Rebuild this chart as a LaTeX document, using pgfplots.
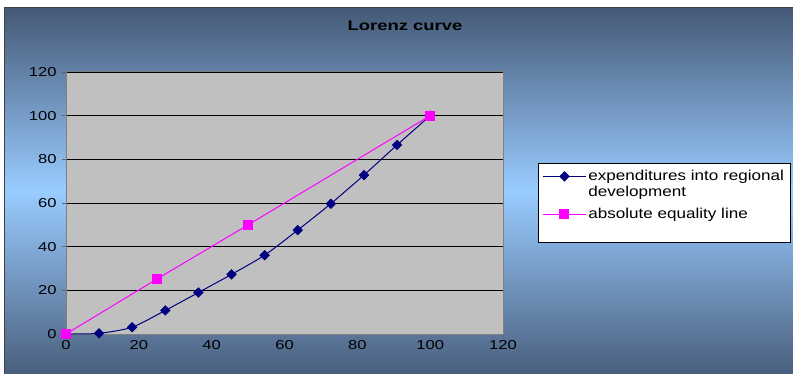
\documentclass[border=0pt]{standalone}
\usepackage{pgfplots}
\pgfplotsset{compat=1.18}
\usepackage{fontspec}
\setmainfont{Liberation Sans}[FakeStretch=1.28]
\newfontfamily\legfont{Liberation Sans}[FakeStretch=1.19]
\newfontfamily\titlefont{Liberation Sans}[FakeStretch=1.32]
\definecolor{bgtop}{HTML}{455977}
\definecolor{bglight}{HTML}{99CCFF}
\definecolor{bgbot}{HTML}{4A5F7E}
\definecolor{plotgray}{HTML}{C0C0C0}
\definecolor{navy}{HTML}{000080}
\definecolor{magenta}{HTML}{FF00FF}
\begin{document}
\begin{tikzpicture}[x=1bp,y=1bp]
\useasboundingbox (0,0) rectangle (793,373);
\clip (0,0) rectangle (793,373);
\fill[white] (0,0) rectangle (793,373);
\shade[top color=bgtop, bottom color=bgbot, middle color=bglight] (4,0) rectangle (793,365);
\draw[black!75, line width=1bp] (4,0) -- (4,365) -- (793,365);
\node[font=\titlefont\fontsize{14}{16}\selectfont\bfseries] at (405,347) {Lorenz curve};
\begin{axis}[
  at={(66bp,39bp)}, anchor=south west,
  scale only axis, width=437bp, height=262bp,
  xmin=0, xmax=120, ymin=0, ymax=120,
  xtick={0,20,...,120}, ytick={0,20,...,120},
  axis background/.style={fill=plotgray},
  axis line style={draw=black!50, line width=1bp},
  ymajorgrids, grid style={black, line width=0.8bp},
  xtick pos=bottom, ytick pos=left,
  tick align=outside, major tick length=4bp,
  tick style={black!60, line width=0.8bp},
  ticklabel style={font=\fontsize{13}{15}\selectfont},
  /pgf/number format/assume math mode=true,
  xticklabel style={yshift=1bp},
  yticklabel style={xshift=-2bp},
  legend style={at={(1.0801,0.6527)}, anchor=north west, draw=black, line width=0.8bp, fill=white,
    font=\legfont\fontsize{14.4}{16.7}\selectfont, cells={anchor=base west, inner ysep=0bp},
    inner xsep=4bp, inner ysep=4bp, row sep=0bp},
  legend image code/.code={\draw[mark repeat=2,mark phase=2,#1] plot coordinates {(0bp,4bp)(21.5bp,4bp)(43bp,4bp)};},
  clip=false,
]
\addplot[navy, line width=1bp, smooth, tension=0.4, mark=square*, mark options={rotate=45, solid, fill=navy}, mark size=3.2bp]
 coordinates {(0,0) (9.09,0.3) (18.18,3.1) (27.27,10.8) (36.36,19) (45.45,27.3) (54.55,36.1) (63.64,47.6) (72.73,59.7) (81.82,72.8) (90.91,86.6) (100,100)};
\addlegendentry{\rule{0pt}{11bp}expenditures into regional}
\addlegendimage{empty legend}
\addlegendentry{\rule{0pt}{11bp}development}
\addplot[magenta, line width=1bp, smooth, tension=0.4, mark=square*, mark options={solid, fill=magenta}, mark size=4.5bp]
 coordinates {(0,0) (25,25.2) (50,50) (100,100)};
\addlegendentry{\rule{0pt}{16bp}absolute equality line}
\addlegendimage{empty legend}
\addlegendentry{\rule{0pt}{11bp}}
\end{axis}
\end{tikzpicture}
\end{document}
